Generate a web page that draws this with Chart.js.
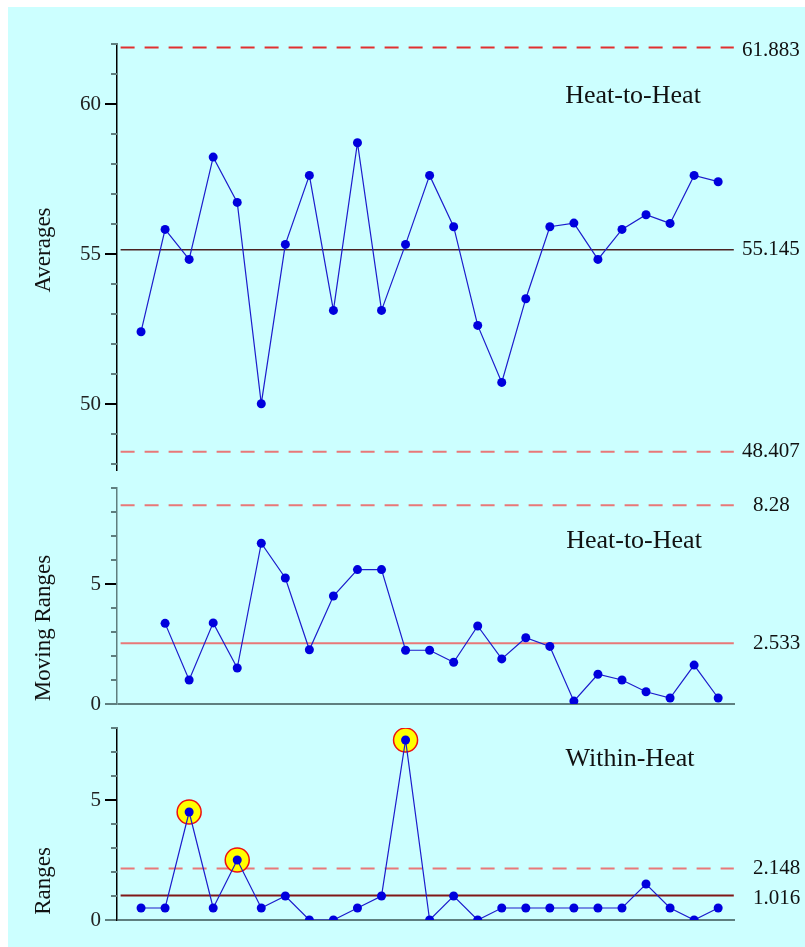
<!DOCTYPE html>
<html>
<head>
<meta charset="utf-8">
<script src="https://cdn.jsdelivr.net/npm/chart.js@4/dist/chart.umd.min.js"></script>
<style>
  body { margin: 0; background: #fff; }
  #bg { position: absolute; left: 8px; top: 7px; width: 797px; height: 940px; background: #ccffff; }
  canvas { position: absolute; left: 0; }
</style>
</head>
<body>
<div id="bg"></div>
<canvas id="avgChart" width="805" height="490" style="top:0px"></canvas>
<canvas id="mrChart" width="805" height="256" style="top:468px"></canvas>
<canvas id="rChart" width="805" height="239" style="top:708px"></canvas>
<script>
// heat numbers
const heats = [1, 2, 3, 4, 5, 6, 7, 8, 9, 10, 11, 12, 13, 14, 15, 16, 17, 18, 19, 20, 21, 22, 23, 24, 25];

// values
const averages = [52.41, 55.82, 54.82, 58.23, 56.72, 50.01, 55.32, 57.62, 53.12, 58.71, 53.12, 55.32, 57.62,
                  55.91, 52.62, 50.72, 53.51, 55.91, 56.03, 54.82, 55.82, 56.31, 56.02, 57.62, 57.41];
const movingRanges = [null, 3.36, 1.0, 3.38, 1.5, 6.7, 5.25, 2.26, 4.5, 5.6, 5.6, 2.24, 2.24,
                      1.74, 3.25, 1.88, 2.76, 2.4, 0.12, 1.24, 1.0, 0.51, 0.25, 1.62, 0.25];
const ranges = [0.5, 0.5, 4.5, 0.5, 2.5, 0.5, 1.0, 0, 0, 0.5, 1.0, 7.5, 0,
                1.0, 0, 0.5, 0.5, 0.5, 0.5, 0.5, 0.5, 1.5, 0.5, 0, 0.5];
const rangeSignals = [3, 5, 12];

// limits
const avgLimits = [61.883, 55.145, 48.407];
const mrLimits = [8.28, 2.533];
const rLimits = [2.148, 1.016];

// tick values
const avgTicks = [48, 49, 50, 51, 52, 53, 54, 55, 56, 57, 58, 59, 60, 61, 62];
const avgMajor = [50, 55, 60];
const mrTicks = [0, 1, 2, 3, 4, 5, 6, 7, 8, 9];
const mrMajor = [0, 5];
const rTicks = [0, 1, 2, 3, 4, 5, 6, 7, 8];
const rMajor = [0, 5];

const SERIF = '"Liberation Serif", "Times New Roman", serif';
const AXIS_GRAY = '#5f7f7f';
const spanStart = 0.15, spanEnd = 25.65;

function limitLine(v, color, width, dash) {
    return {
        data: [{ x: spanStart, y: v }, { x: spanEnd, y: v }],
        borderColor: color,
        borderWidth: width,
        borderDash: dash || [],
        pointRadius: 0,
        order: 3
    };
}

function series(values) {
    return {
        data: heats.map((h, i) => ({ x: h, y: values[i] })),
        borderColor: '#1c1ccc',
        borderWidth: 1.2,
        pointRadius: 4.5,
        pointBackgroundColor: '#0000dd',
        pointBorderWidth: 0,
        order: 1
    };
}

// draws minor ticks, panel title, axis title and limit labels
const panelDecor = {
    id: 'panelDecor',
    afterDraw(chart, args, opts) {
        const ctx = chart.ctx;
        const y = chart.scales.y;
        const left = chart.chartArea.left;
        ctx.save();
        ctx.strokeStyle = AXIS_GRAY;
        ctx.lineWidth = 2;
        opts.minor.forEach(v => {
            const py = y.getPixelForValue(v);
            ctx.beginPath();
            ctx.moveTo(left - 6, py);
            ctx.lineTo(left, py);
            ctx.stroke();
        });
        ctx.fillStyle = '#111';
        ctx.textBaseline = 'middle';
        ctx.textAlign = 'center';
        ctx.font = '26px ' + SERIF;
        ctx.fillText(opts.title, opts.titleX, opts.titleY);

        ctx.textAlign = 'left';
        ctx.font = '21px ' + SERIF;
        opts.labels.forEach(l => {
            ctx.fillText(l.text, opts.labelX, y.getPixelForValue(l.v) + (l.dy || 0));
        });

        ctx.save();
        ctx.translate(44, opts.axisTitleY);
        ctx.rotate(-Math.PI / 2);
        ctx.textAlign = 'center';
        ctx.font = '23px ' + SERIF;
        ctx.fillText(opts.axisTitle, 0, 0);
        ctx.restore();
        ctx.restore();
    }
};

function makePanel(id, cfg) {
    new Chart(document.getElementById(id), {
        type: 'line',
        data: { datasets: cfg.datasets },
        options: {
            responsive: false,
            animation: false,
            events: [],
            layout: { padding: cfg.padding },
            plugins: {
                legend: { display: false },
                tooltip: { enabled: false },
                panelDecor: cfg.decor
            },
            scales: {
                x: { type: 'linear', min: 0, max: 25.7, display: false },
                y: {
                    type: 'linear',
                    min: cfg.min,
                    max: cfg.max,
                    afterBuildTicks: s => { s.ticks = cfg.ticks.map(v => ({ value: v })); },
                    afterFit: s => { s.width = 117; },
                    ticks: {
                        autoSkip: false,
                        padding: 4,
                        color: '#222',
                        font: { family: SERIF, size: 21 },
                        callback: v => cfg.major.includes(v) ? String(v) : ''
                    },
                    grid: {
                        drawOnChartArea: true,
                        lineWidth: 2,
                        tickLength: 12,
                        tickWidth: 2,
                        color: c => (cfg.zeroLine && c.tick && c.tick.value === 0) ? AXIS_GRAY : 'transparent',
                        tickColor: c => {
                            if (!c.tick || !cfg.major.includes(c.tick.value)) return 'transparent';
                            return c.tick.value === 0 ? AXIS_GRAY : '#000';
                        }
                    },
                    border: { color: cfg.axisColor, width: 1.5 }
                }
            }
        },
        plugins: [panelDecor]
    });
}

makePanel('avgChart', {
    min: 47.8, max: 62,
    ticks: avgTicks, major: avgMajor, zeroLine: false, axisColor: '#000',
    padding: { top: 44, right: 70, bottom: 20, left: 0 },
    datasets: [
        series(averages),
        limitLine(avgLimits[0], '#e03030', 2, [14, 10]),
        limitLine(avgLimits[1], '#4a2222', 1.5),
        limitLine(avgLimits[2], '#e87878', 2, [14, 10])
    ],
    decor: {
        minor: avgTicks.filter(v => !avgMajor.includes(v)),
        title: 'Heat-to-Heat', titleX: 633, titleY: 96,
        axisTitle: 'Averages', axisTitleY: 250,
        labelX: 742,
        labels: [
            { v: avgLimits[0], text: '61.883', dy: 3 },
            { v: avgLimits[1], text: '55.145' },
            { v: avgLimits[2], text: '48.407' }
        ]
    }
});

makePanel('mrChart', {
    min: 0, max: 9,
    ticks: mrTicks, major: mrMajor, zeroLine: true, axisColor: AXIS_GRAY,
    padding: { top: 20, right: 70, bottom: 20, left: 0 },
    datasets: [
        series(movingRanges),
        limitLine(mrLimits[0], '#e87878', 2, [14, 10]),
        limitLine(mrLimits[1], '#e87878', 2)
    ],
    decor: {
        minor: mrTicks.filter(v => !mrMajor.includes(v)),
        title: 'Heat-to-Heat', titleX: 634, titleY: 73,
        axisTitle: 'Moving Ranges', axisTitleY: 160,
        labelX: 753,
        labels: [
            { v: mrLimits[0], text: '8.28' },
            { v: mrLimits[1], text: '2.533' }
        ]
    }
});

const signalSet = {
    data: rangeSignals.map(h => ({ x: h, y: ranges[heats.indexOf(h)] })),
    showLine: false,
    pointRadius: 12,
    pointBackgroundColor: '#ffff00',
    pointBorderColor: '#ee1111',
    pointBorderWidth: 1.5,
    order: 2
};

makePanel('rChart', {
    min: 0, max: 8,
    ticks: rTicks, major: rMajor, zeroLine: true, axisColor: '#000',
    padding: { top: 20, right: 70, bottom: 27, left: 0 },
    datasets: [
        series(ranges),
        signalSet,
        limitLine(rLimits[0], '#e87878', 2, [14, 10]),
        limitLine(rLimits[1], '#801818', 2)
    ],
    decor: {
        minor: rTicks.filter(v => !rMajor.includes(v)),
        title: 'Within-Heat', titleX: 630, titleY: 51,
        axisTitle: 'Ranges', axisTitleY: 173,
        labelX: 753,
        labels: [
            { v: rLimits[0], text: '2.148' },
            { v: rLimits[1], text: '1.016', dy: 3 }
        ]
    }
});
</script>
</body>
</html>
